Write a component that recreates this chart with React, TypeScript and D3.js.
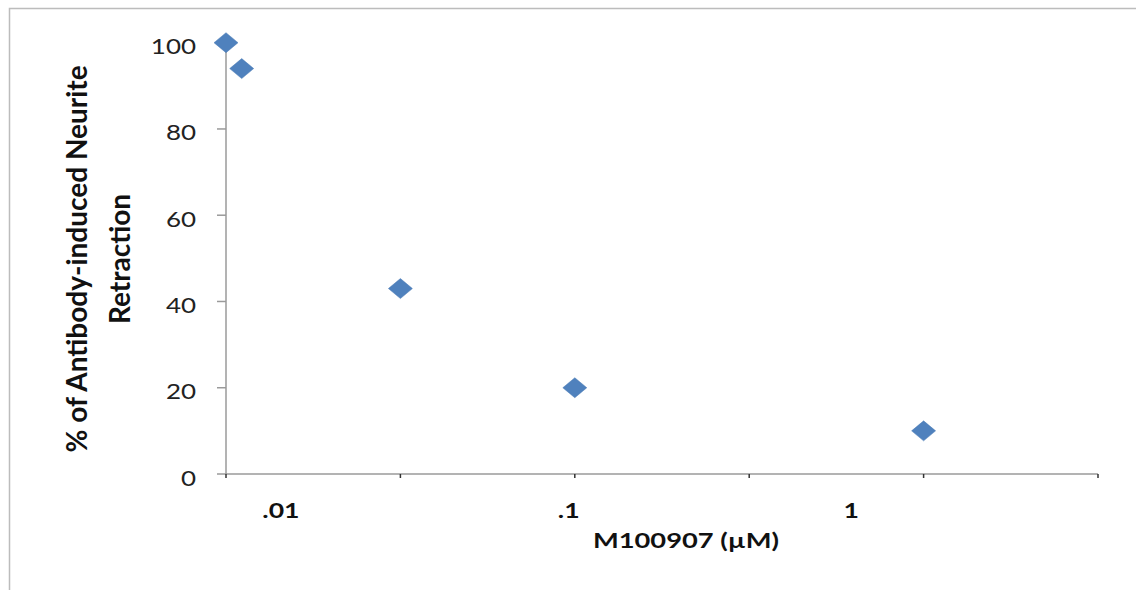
import React from 'react';
import * as d3 from 'd3';

const width = 1136;
const height = 590;

// x is laid out on an evenly spaced axis (tick slots 0..5), labels are concentrations
const xSlots = [0, 1, 2, 3, 4, 5];
const pointX = [0, 0.09, 1, 2, 4];
const pointY = [100, 94, 43, 20, 10];
const yTicks = [0, 20, 40, 60, 80, 100];
const xLabels = ['.01', '.1', '1'];
const xLabelAt = [0.315, 1.965, 3.585];

const xTitle = 'M100907 (\u00b5M)';
const yTitle = ['% of Antibody-induced Neurite', 'Retraction'];

const x = d3.scaleLinear().domain([0, 5]).range([226, 1098]);
const y = d3.scaleLinear().domain([0, 100]).range([474, 42.7]);

const font = 'Lato, "Open Sans", sans-serif';

export default class App extends React.Component {

    node: SVGSVGElement | null = null;

    componentDidMount(){
        this.drawChart();
    }

    drawChart(){

        const svg = d3.select(this.node);
        svg.selectAll('*').remove();

        svg.attr('width', width).attr('height', height);

        svg.append('rect')
            .attr('width', width)
            .attr('height', height)
            .attr('fill', 'white');

        // outer frame (only top and left edges fall inside the picture)
        svg.append('path')
            .attr('d', `M9.5,${height} V8.5 H${width}`)
            .attr('fill', 'none')
            .attr('stroke', '#bcbcbc')
            .attr('stroke-width', 1.5);

        // y axis
        const yAxis = svg.append('g');
        yAxis.append('line')
            .attr('x1', x(0)).attr('x2', x(0))
            .attr('y1', y(100)).attr('y2', y(0))
            .attr('stroke', '#9a9a9a')
            .attr('stroke-width', 1.5);

        yAxis.selectAll('.ytick')
            .data(yTicks)
            .enter().append('line')
            .attr('x1', x(0) - 9).attr('x2', x(0))
            .attr('y1', d => y(d)).attr('y2', d => y(d))
            .attr('stroke', '#9a9a9a')
            .attr('stroke-width', 1.5);

        yAxis.selectAll('.ylabel')
            .data(yTicks)
            .enter().append('text')
            .attr('transform', d => `translate(${x(0) - 30},${y(d) + 11.5}) scale(1.18,1)`)
            .attr('text-anchor', 'end')
            .attr('font-family', font)
            .attr('font-size', 22)
            .attr('fill', '#222')
            .text(d => d);

        // x axis
        const xAxis = svg.append('g');
        xAxis.append('line')
            .attr('x1', x(0)).attr('x2', x(5))
            .attr('y1', y(0)).attr('y2', y(0))
            .attr('stroke', '#9a9a9a')
            .attr('stroke-width', 1.5);

        xAxis.selectAll('.xtick')
            .data(xSlots)
            .enter().append('line')
            .attr('x1', d => x(d)).attr('x2', d => x(d))
            .attr('y1', y(0)).attr('y2', y(0) + 4)
            .attr('stroke', '#333')
            .attr('stroke-width', 1.5);

        xAxis.selectAll('.xlabel')
            .data(xLabels)
            .enter().append('text')
            .attr('transform', (d, i) => `translate(${x(xLabelAt[i])},517.5) scale(1.33,1)`)
            .attr('text-anchor', 'middle')
            .attr('font-family', font)
            .attr('font-weight', 'bold')
            .attr('font-size', 20)
            .attr('fill', '#111')
            .text(d => d);

        // titles
        svg.append('text')
            .attr('transform', 'translate(686,548) scale(1.3,1)')
            .attr('text-anchor', 'middle')
            .attr('font-family', font)
            .attr('font-weight', 'bold')
            .attr('font-size', 21)
            .attr('fill', '#111')
            .text(xTitle);

        svg.append('text')
            .attr('transform', 'translate(87,259) rotate(-90)')
            .attr('text-anchor', 'middle')
            .attr('font-family', font)
            .attr('font-weight', 'bold')
            .attr('font-size', 28)
            .attr('fill', '#111')
            .selectAll('tspan')
            .data(yTitle)
            .enter().append('tspan')
            .attr('x', 0)
            .attr('dy', (d, i) => i === 0 ? 0 : 43)
            .text(d => d);

        // points
        const diamond = 'M0,-10 L12,0 L0,10 L-12,0 Z';
        svg.append('g')
            .selectAll('path')
            .data(pointY)
            .enter().append('path')
            .attr('d', diamond)
            .attr('transform', (d, i) => `translate(${x(pointX[i])},${y(d)})`)
            .attr('fill', '#4f81bd')
            .attr('stroke', '#4a7ab5')
            .attr('stroke-width', 0.5);

    }

    render() {
        return (
            <div style={{ position: 'absolute', left: 0, top: 0 }}>
                <svg ref={node => { this.node = node; }} style={{ display: 'block' }}></svg>
            </div>
        );
    }
}
